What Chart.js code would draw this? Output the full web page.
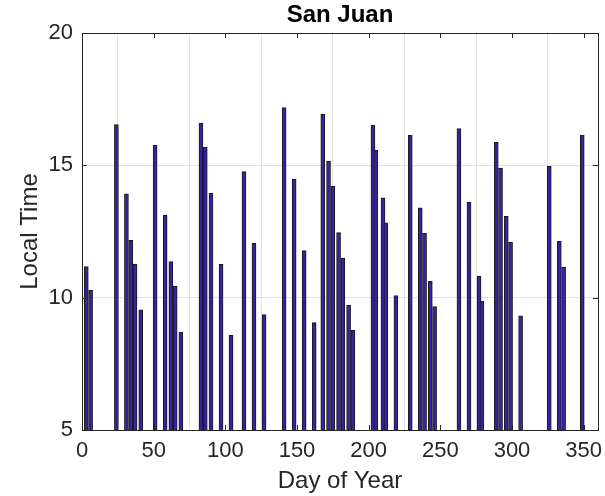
<!DOCTYPE html>
<html>
<head>
<meta charset="utf-8">
<script src="https://cdn.jsdelivr.net/npm/chart.js@4"></script>
<style>
    html, body { margin: 0; padding: 0; background: #fff; }
    #wrap { width: 605px; height: 496px; position: relative; }
</style>
</head>
<body>
<div id="wrap"><canvas id="chart"></canvas></div>
<script>
// Day of year for each observation
const days = [3, 6, 24, 31, 34, 37, 41, 51, 58, 62, 65, 69, 83, 86, 90, 97, 104, 113, 120, 127,
    141, 148, 155, 162, 168, 172, 175, 179, 182, 186, 189, 203, 205, 210, 212, 219, 229, 236, 239,
    243, 246, 263, 270, 277, 279, 289, 292, 296, 299, 306, 326, 333, 336, 349];

// Local time (hours) for each observation
const localTimes = [11.17, 10.28, 16.54, 13.92, 12.17, 11.27, 9.54, 15.76, 13.11, 11.36, 10.44, 8.7,
    16.6, 15.69, 13.94, 11.26, 8.58, 14.76, 12.05, 9.36, 17.18, 14.48, 11.78, 9.06, 16.94, 15.16,
    14.22, 12.46, 11.5, 9.71, 8.77, 16.52, 15.58, 13.77, 12.83, 10.08, 16.13, 13.39, 12.43, 10.62,
    9.66, 16.39, 13.6, 10.82, 9.86, 15.87, 14.9, 13.07, 12.1, 9.31, 14.96, 12.13, 11.16, 16.13];

const xTicks = [0, 50, 100, 150, 200, 250, 300, 350];
const yTicks = [5, 10, 15, 20];
const chartTitle = 'San Juan';

const FONT = '"Liberation Sans", Arial, Helvetica, sans-serif';
const TEXT = '#262626';

// Box around the plot area with inward tick marks, and a title centred over the axes
const boxPlugin = {
    id: 'box',
    afterDraw(chart) {
        const { ctx, chartArea: a, scales } = chart;
        ctx.save();
        ctx.strokeStyle = '#262626';
        ctx.lineWidth = 1;
        ctx.strokeRect(a.left + 0.5, a.top + 0.5, a.right - a.left, a.bottom - a.top);
        ctx.beginPath();
        xTicks.forEach(v => {
            const px = Math.round(scales.x.getPixelForValue(v)) + 0.5;
            ctx.moveTo(px, a.bottom); ctx.lineTo(px, a.bottom - 5);
            ctx.moveTo(px, a.top); ctx.lineTo(px, a.top + 5);
        });
        yTicks.forEach(v => {
            const py = Math.round(scales.y.getPixelForValue(v)) + 0.5;
            ctx.moveTo(a.left, py); ctx.lineTo(a.left + 5, py);
            ctx.moveTo(a.right, py); ctx.lineTo(a.right - 5, py);
        });
        ctx.stroke();

        // title
        ctx.fillStyle = '#000';
        ctx.font = 'bold 24px ' + FONT;
        ctx.textAlign = 'center';
        ctx.textBaseline = 'middle';
        ctx.fillText(chartTitle, (a.left + a.right) / 2, 15);
        ctx.restore();
    }
};

const ctx = document.getElementById('chart').getContext('2d');

new Chart(ctx, {
    type: 'bar',
    data: {
        datasets: [{
            label: 'Local Time',
            data: days.map((d, i) => ({ x: d, y: localTimes[i] })),
            backgroundColor: 'rgb(56, 34, 160)',
            borderColor: '#1a1a1a',
            borderWidth: 1,
            barThickness: 4
        }]
    },
    options: {
        responsive: true,
        maintainAspectRatio: false,
        animation: false,
        layout: {
            padding: { top: 33, right: 7, bottom: 0, left: 0 }
        },
        plugins: {
            legend: { display: false },
            tooltip: { enabled: false },
            title: { display: false }
        },
        scales: {
            x: {
                type: 'linear',
                min: 0,
                max: 360,
                offset: false,
                afterBuildTicks(scale) {
                    scale.ticks = xTicks.map(v => ({ value: v }));
                },
                afterFit(scale) {
                    scale.height = 66;
                    // keep the plot box fixed, labels may overhang
                    scale.paddingLeft = 0;
                    scale.paddingRight = 0;
                },
                grid: {
                    color: '#e3e3e3',
                    drawTicks: false
                },
                border: { display: false },
                ticks: {
                    color: TEXT,
                    padding: 8,
                    maxRotation: 0,
                    font: { family: FONT, size: 22 }
                },
                title: {
                    display: true,
                    text: 'Day of Year',
                    color: TEXT,
                    padding: { top: 0, bottom: 0 },
                    font: { family: FONT, size: 24 }
                }
            },
            y: {
                min: 5,
                max: 20,
                afterBuildTicks(scale) {
                    scale.ticks = yTicks.map(v => ({ value: v }));
                },
                afterFit(scale) {
                    scale.width = 82;
                    scale.paddingTop = 0;
                    scale.paddingBottom = 0;
                },
                grid: {
                    color: '#e3e3e3',
                    drawTicks: false
                },
                border: { display: false },
                ticks: {
                    color: TEXT,
                    padding: 9,
                    font: { family: FONT, size: 22 }
                },
                title: {
                    display: true,
                    text: 'Local Time',
                    color: TEXT,
                    padding: { top: 16, bottom: 0 },
                    font: { family: FONT, size: 24 }
                }
            }
        }
    },
    plugins: [boxPlugin]
});
</script>
</body>
</html>
